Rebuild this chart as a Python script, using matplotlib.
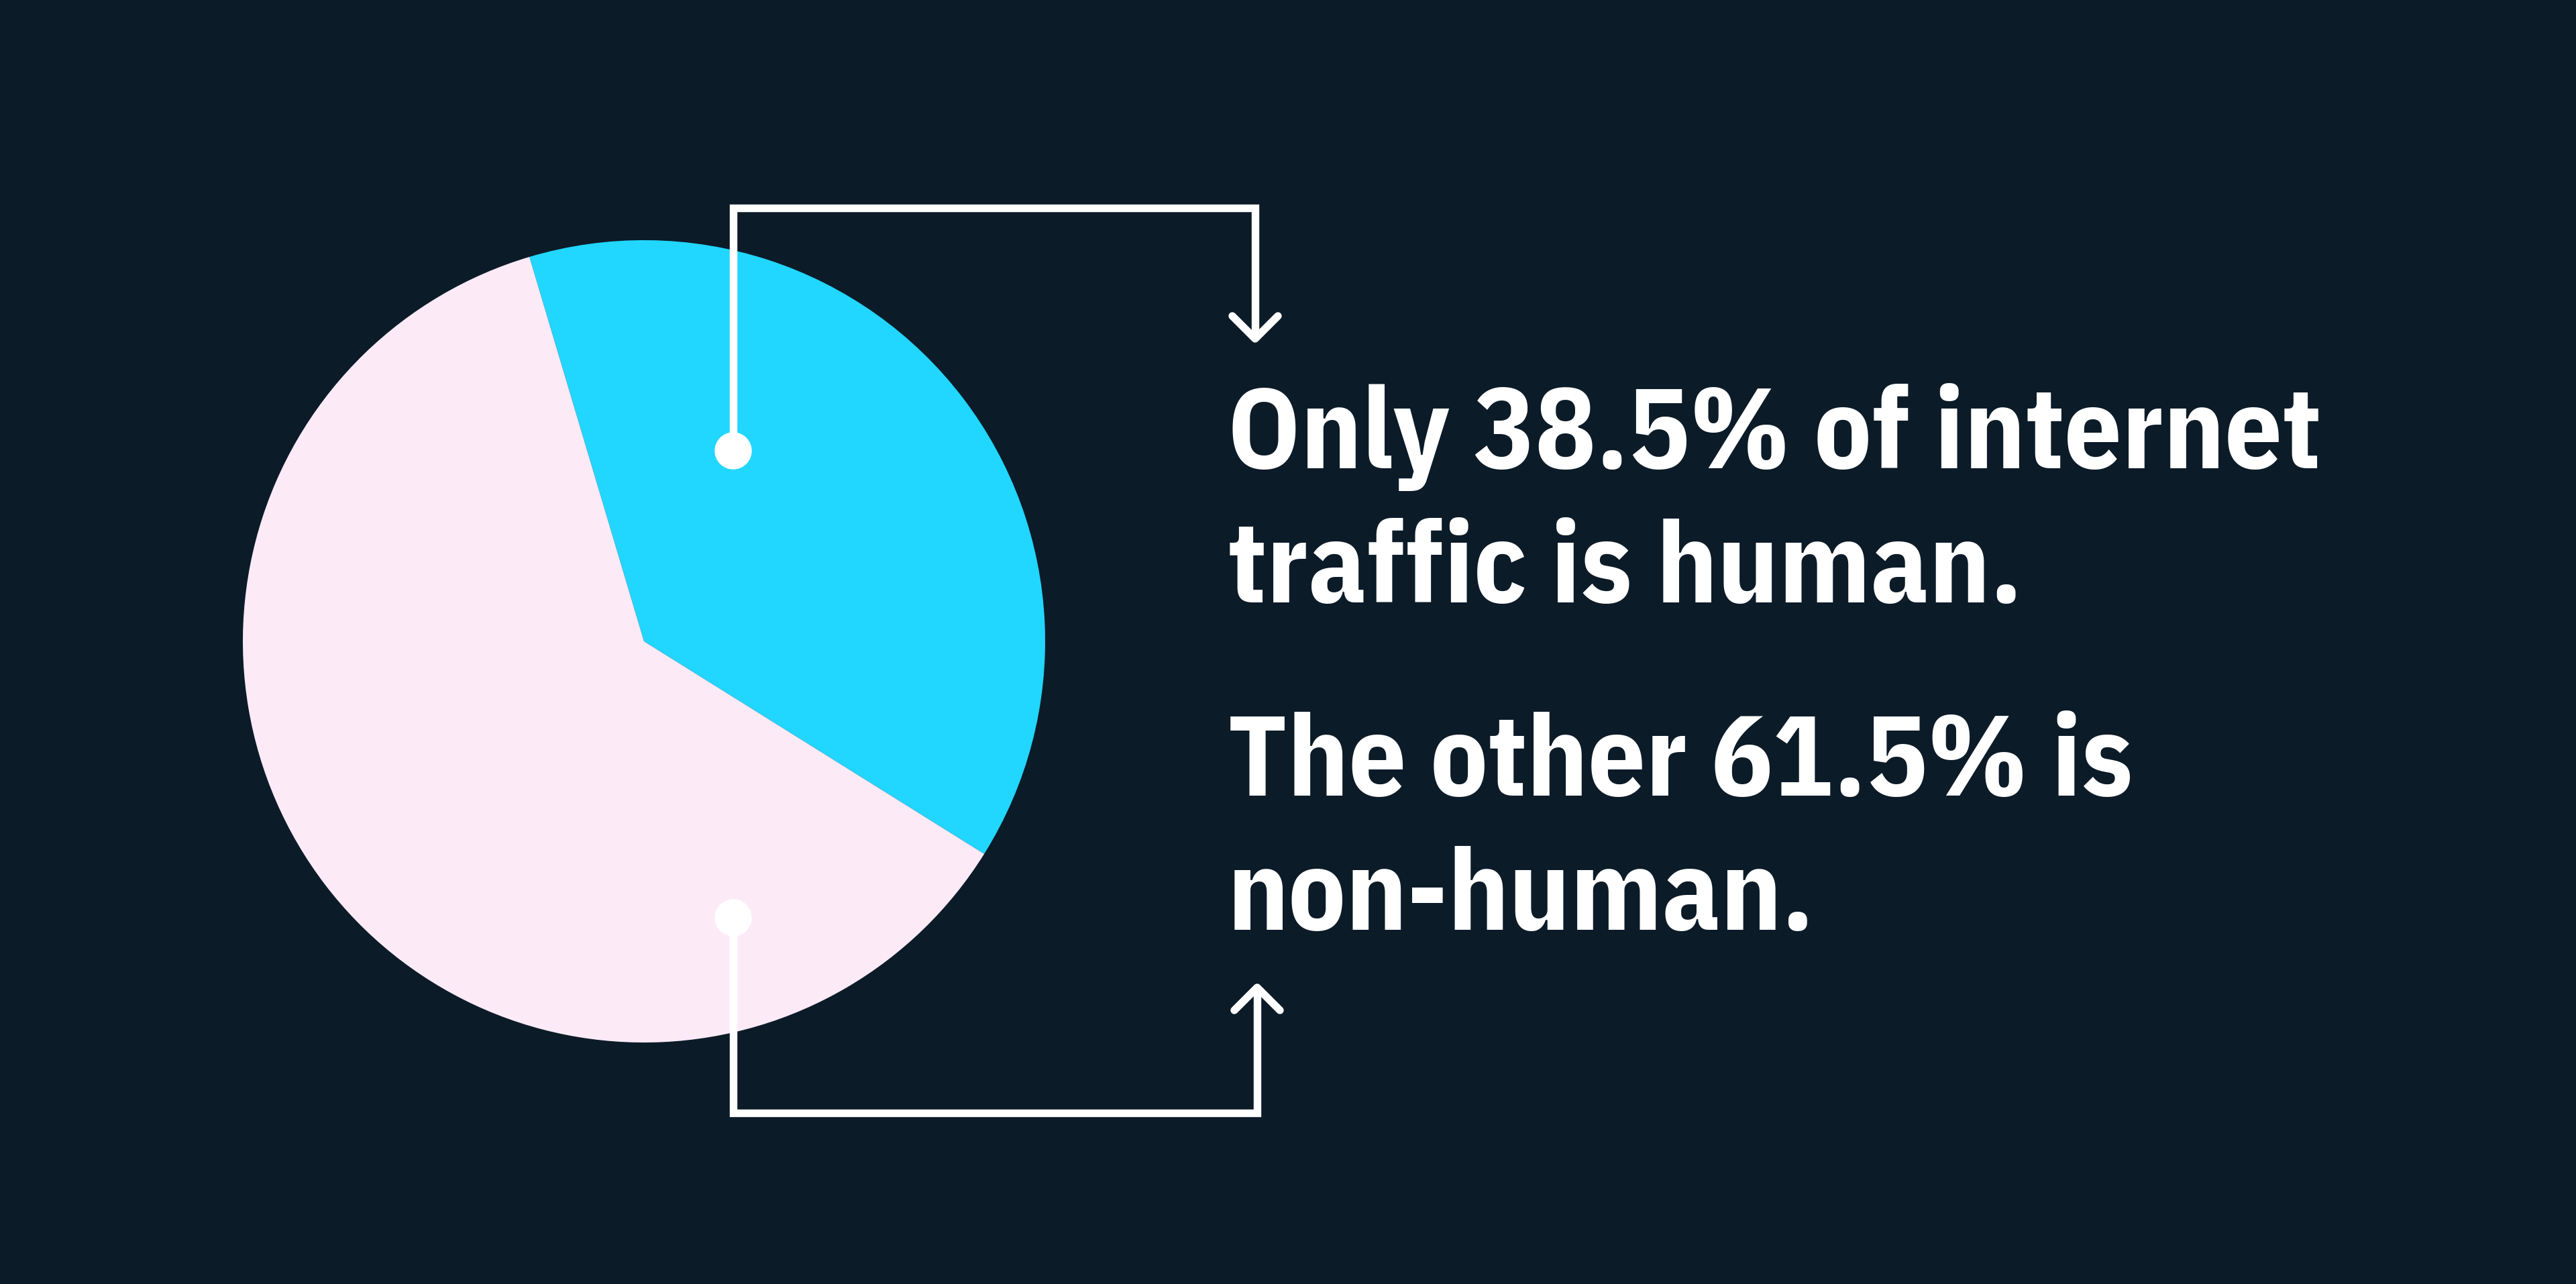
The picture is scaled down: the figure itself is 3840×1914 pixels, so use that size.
import matplotlib
matplotlib.use("Agg")
import matplotlib.pyplot as plt
from matplotlib import font_manager
from matplotlib.patches import Circle

# data
segments = ["Human", "Non-human"]
shares = [38.5, 61.5]
seg_colors = ["#21D6FF", "#FDEAF7"]

BG = "#0C1B28"
W, H = 3840, 1915

installed = {f.name for f in font_manager.fontManager.ttflist}
family = [f for f in ["IBM Plex Sans Condensed", "IBM Plex Sans Hebrew",
                      "Roboto"] if f in installed][:1] + ["DejaVu Sans"]

fig = plt.figure(figsize=(W / 100, H / 100), dpi=100, facecolor=BG)
ax = fig.add_axes([0, 0, 1, 1])
ax.set_facecolor(BG)

# y axis runs downward so layout numbers read like pixel rows
ax.pie(shares, colors=seg_colors, startangle=32, counterclock=False,
       center=(960, 957), radius=598, wedgeprops=dict(linewidth=0), frame=True)
ax.set_xlim(0, W)
ax.set_ylim(H, 0)
ax.set_aspect("equal")
ax.axis("off")

# connectors from each slice to the text block
lw = 8.2
top_path = ([1093, 1093, 1871, 1871], [673, 311, 311, 505])
bot_path = ([1093, 1093, 1874, 1874], [1369, 1660, 1660, 1474])
ax.plot(*top_path, color="white", lw=lw, solid_joinstyle="miter", solid_capstyle="butt")
ax.plot(*bot_path, color="white", lw=lw, solid_joinstyle="miter", solid_capstyle="butt")
ax.plot([1837, 1871, 1905], [472, 506, 472], color="white", lw=lw,
        solid_capstyle="round", solid_joinstyle="round")
ax.plot([1840, 1874, 1908], [1507, 1473, 1507], color="white", lw=lw,
        solid_capstyle="round", solid_joinstyle="round")
for cy in (673, 1369):
    ax.add_patch(Circle((1093, cy), 27, color="white", zorder=5))

lines = [f"Only {shares[0]}% of internet", "traffic is human.",
         f"The other {shares[1]}% is", "non-human."]
baselines = [698, 898, 1186, 1386]

fs = 110
texts = [ax.text(1830, y, s, color="white", fontsize=fs, fontweight="bold",
                 family=family, va="baseline", ha="left")
         for s, y in zip(lines, baselines)]

fig.canvas.draw()
r = fig.canvas.get_renderer()
w = texts[0].get_window_extent(r).width
fs = fs * 1630 / w
for t in texts:
    t.set_fontsize(fs)

fig.savefig("out.png", dpi=100, facecolor=BG)
